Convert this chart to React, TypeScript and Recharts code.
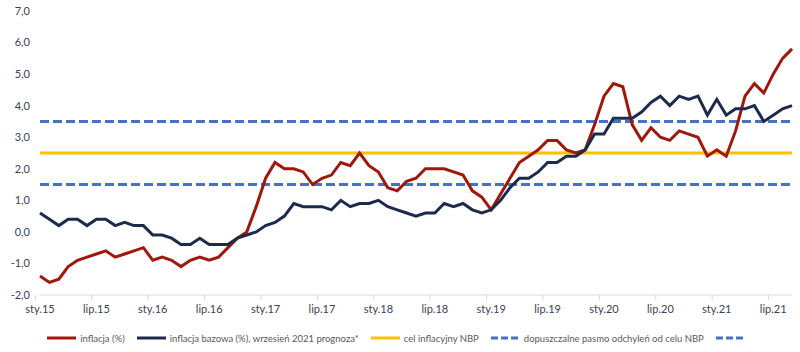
import { LineChart, Line, XAxis, YAxis, Legend } from 'recharts';

const monthNames = ['sty', 'lut', 'mar', 'kwi', 'maj', 'cze', 'lip', 'sie', 'wrz', 'paź', 'lis', 'gru'];
const years = ['15', '16', '17', '18', '19', '20', '21'];

// inflacja CPI r/r (%), sty.15 - wrz.21
const inflacja = [
  -1.4, -1.6, -1.5, -1.1, -0.9, -0.8, -0.7, -0.6, -0.8, -0.7, -0.6, -0.5,
  -0.9, -0.8, -0.9, -1.1, -0.9, -0.8, -0.9, -0.8, -0.5, -0.2, 0.0, 0.8,
  1.7, 2.2, 2.0, 2.0, 1.9, 1.5, 1.7, 1.8, 2.2, 2.1, 2.5, 2.1,
  1.9, 1.4, 1.3, 1.6, 1.7, 2.0, 2.0, 2.0, 1.9, 1.8, 1.3, 1.1,
  0.7, 1.2, 1.7, 2.2, 2.4, 2.6, 2.9, 2.9, 2.6, 2.5, 2.6, 3.4,
  4.3, 4.7, 4.6, 3.4, 2.9, 3.3, 3.0, 2.9, 3.2, 3.1, 3.0, 2.4,
  2.6, 2.4, 3.2, 4.3, 4.7, 4.4, 5.0, 5.5, 5.8,
];

// inflacja bazowa (%), wrzesień 2021 prognoza
const bazowa = [
  0.6, 0.4, 0.2, 0.4, 0.4, 0.2, 0.4, 0.4, 0.2, 0.3, 0.2, 0.2,
  -0.1, -0.1, -0.2, -0.4, -0.4, -0.2, -0.4, -0.4, -0.4, -0.2, -0.1, 0.0,
  0.2, 0.3, 0.5, 0.9, 0.8, 0.8, 0.8, 0.7, 1.0, 0.8, 0.9, 0.9,
  1.0, 0.8, 0.7, 0.6, 0.5, 0.6, 0.6, 0.9, 0.8, 0.9, 0.7, 0.6,
  0.7, 1.0, 1.4, 1.7, 1.7, 1.9, 2.2, 2.2, 2.4, 2.4, 2.6, 3.1,
  3.1, 3.6, 3.6, 3.6, 3.8, 4.1, 4.3, 4.0, 4.3, 4.2, 4.3, 3.7,
  4.2, 3.7, 3.9, 3.9, 4.0, 3.5, 3.7, 3.9, 4.0,
];

const celNBP = 2.5;
const pasmoDolne = 1.5;
const pasmoGorne = 3.5;

const yTicks = [-2, -1, 0, 1, 2, 3, 4, 5, 6, 7];

const months = years.flatMap(y => monthNames.map(m => `${m}.${y}`)).slice(0, inflacja.length);

const data = months.map((month, i) => ({
  month,
  inflacja: inflacja[i],
  bazowa: bazowa[i],
  cel: celNBP,
  dol: pasmoDolne,
  gora: pasmoGorne,
}));

const RED = '#A0170B';
const NAVY = '#1C2A4C';
const YELLOW = '#FFC000';
const BLUE = '#4472C4';
const DASH = '9 4';

const CHART_W = 800;
const CHART_H = 352;
const LEFT = 40;
const RIGHT = 8;
const halfBand = (CHART_W - LEFT - RIGHT) / months.length / 2;

const fontFamily = 'Lato, "Liberation Sans", sans-serif';

const MonthTick = (props: any) => {
  const { x, y, payload } = props;
  return (
    <g>
      <line x1={x - halfBand} x2={x - halfBand} y1={y - 10} y2={y - 5} stroke="#d9d9d9" />
      <text x={x} y={y} dy="0.75em" textAnchor="middle" fontSize={11} fill="#3b4152" fontFamily={fontFamily}>
        {payload.value}
      </text>
    </g>
  );
};

const legendItems = [
  { label: 'inflacja (%)', color: RED, dashed: false },
  { label: 'inflacja bazowa (%), wrzesień 2021 prognoza*', color: NAVY, dashed: false },
  { label: 'cel inflacyjny NBP', color: YELLOW, dashed: false },
  { label: 'dopuszczalne pasmo odchyleń od celu NBP', color: BLUE, dashed: true },
  { label: '', color: BLUE, dashed: true },
];

const ChartLegend = () => (
  <div
    style={{
      height: 32,
      boxSizing: 'border-box',
      paddingTop: 4,
      display: 'flex',
      justifyContent: 'center',
      alignItems: 'center',
      gap: 12,
      fontFamily,
      fontSize: 9.5,
      color: '#595959',
    }}
  >
    {legendItems.map((item, i) => (
      <div key={i} style={{ display: 'flex', alignItems: 'center', gap: 4 }}>
        <svg width={29} height={6}>
          <line
            x1={0}
            x2={29}
            y1={3}
            y2={3}
            stroke={item.color}
            strokeWidth={3}
            strokeDasharray={item.dashed ? '7 3' : undefined}
          />
        </svg>
        {item.label && <span>{item.label}</span>}
      </div>
    ))}
  </div>
);

export default function App() {
  return (
    <div style={{ position: 'absolute', left: 0, top: 0, background: '#fff' }}>
      <LineChart width={CHART_W} height={CHART_H} data={data} margin={{ top: 11, right: RIGHT, bottom: 0, left: 0 }}>
        <XAxis
          dataKey="month"
          interval={5}
          stroke="#d9d9d9"
          tickLine={false}
          tickSize={0}
          tickMargin={10}
          height={25}
          tick={<MonthTick />}
        />
        <YAxis
          domain={[-2, 7]}
          ticks={yTicks}
          width={LEFT}
          axisLine={false}
          tickLine={false}
          tickSize={0}
          tickMargin={10}
          tick={{ fontSize: 11, fill: '#3b4152', fontFamily }}
          tickFormatter={(v: number) => v.toFixed(1).replace('.', ',')}
        />
        <Legend verticalAlign="bottom" content={<ChartLegend />} />
        <Line dataKey="cel" stroke={YELLOW} strokeWidth={3} dot={false} isAnimationActive={false} />
        <Line dataKey="gora" stroke={BLUE} strokeWidth={3} strokeDasharray={DASH} dot={false} isAnimationActive={false} />
        <Line dataKey="dol" stroke={BLUE} strokeWidth={3} strokeDasharray={DASH} dot={false} isAnimationActive={false} />
        <Line dataKey="inflacja" stroke={RED} strokeWidth={3} dot={false} isAnimationActive={false} />
        <Line dataKey="bazowa" stroke={NAVY} strokeWidth={3} dot={false} isAnimationActive={false} />
      </LineChart>
    </div>
  );
}
